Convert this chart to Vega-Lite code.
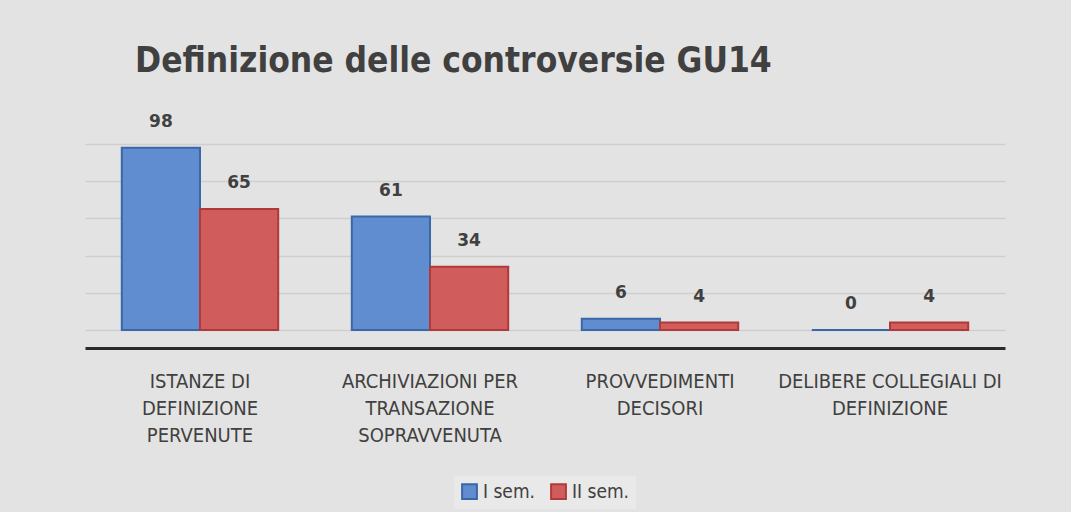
{
  "$schema": "https://vega.github.io/schema/vega-lite/v6.json",
  "width": 920,
  "height": 186,
  "padding": {"left": 85, "right": 66, "top": 43, "bottom": 3},
  "background": "#e3e3e3",
  "title": {
    "text": "Definizione delle controversie GU14",
    "anchor": "start",
    "dx": 50,
    "offset": 34,
    "font": "DejaVu Sans Condensed, sans-serif",
    "fontSize": 35,
    "fontWeight": "bold",
    "color": "#404040"
  },
  "data": {
    "values": [
      {"cat": "ISTANZE DI|DEFINIZIONE|PERVENUTE", "sem": "I sem.", "value": 98},
      {"cat": "ISTANZE DI|DEFINIZIONE|PERVENUTE", "sem": "II sem.", "value": 65},
      {"cat": "ARCHIVIAZIONI PER|TRANSAZIONE|SOPRAVVENUTA", "sem": "I sem.", "value": 61},
      {"cat": "ARCHIVIAZIONI PER|TRANSAZIONE|SOPRAVVENUTA", "sem": "II sem.", "value": 34},
      {"cat": "PROVVEDIMENTI|DECISORI", "sem": "I sem.", "value": 6},
      {"cat": "PROVVEDIMENTI|DECISORI", "sem": "II sem.", "value": 4},
      {"cat": "DELIBERE COLLEGIALI DI|DEFINIZIONE", "sem": "I sem.", "value": 0},
      {"cat": "DELIBERE COLLEGIALI DI|DEFINIZIONE", "sem": "II sem.", "value": 4}
    ]
  },
  "encoding": {
    "x": {
      "field": "cat",
      "type": "nominal",
      "sort": null,
      "scale": {"paddingInner": 0.32, "paddingOuter": 0.16},
      "axis": {
        "title": null,
        "labelAngle": 0,
        "labelExpr": "split(datum.label, '|')",
        "labelLineHeight": 27,
        "labelBaseline": "top",
        "labelPadding": 23,
        "labelLimit": 400,
        "labelFont": "DejaVu Sans Condensed, sans-serif",
        "labelFontSize": 20,
        "labelColor": "#404040",
        "ticks": false,
        "domainColor": "#2a2a2a",
        "domainWidth": 3,
        "offset": 18
      }
    },
    "xOffset": {"field": "sem", "type": "nominal", "sort": ["I sem.", "II sem."]},
    "y": {
      "field": "value",
      "type": "quantitative",
      "scale": {"domain": [0, 100], "nice": false},
      "axis": {
        "title": null,
        "labels": false,
        "ticks": false,
        "domain": false,
        "grid": true,
        "gridColor": "#cfcfcf",
        "gridWidth": 1.5,
        "tickCount": 5
      }
    }
  },
  "layer": [
    {
      "mark": {"type": "bar", "strokeWidth": 2},
      "encoding": {
        "color": {
          "field": "sem",
          "type": "nominal",
          "scale": {"domain": ["I sem.", "II sem."], "range": ["#5f8dcf", "#d05c5c"]},
          "legend": {
            "title": null,
            "orient": "bottom",
            "direction": "horizontal",
            "symbolType": "square",
            "symbolSize": 220,
            "symbolStrokeWidth": 2,
            "labelFont": "DejaVu Sans Condensed, sans-serif",
            "labelFontSize": 19,
            "labelColor": "#404040",
            "columnPadding": 12,
            "labelOffset": 4,
            "offset": 31,
            "fillColor": "#e9e9e9",
            "padding": 6
          }
        },
        "stroke": {
          "field": "sem",
          "type": "nominal",
          "scale": {"domain": ["I sem.", "II sem."], "range": ["#3a67a8", "#b03a3a"]},
          "legend": null
        }
      }
    },
    {
      "mark": {
        "type": "text",
        "dy": -17,
        "baseline": "bottom",
        "font": "DejaVu Sans, sans-serif",
        "fontSize": 17,
        "fontWeight": "bold",
        "color": "#404040"
      },
      "encoding": {"text": {"field": "value", "type": "quantitative"}}
    }
  ],
  "config": {
    "view": {"stroke": null},
    "legend": {"layout": {"bottom": {"anchor": "middle"}}}
  }
}
